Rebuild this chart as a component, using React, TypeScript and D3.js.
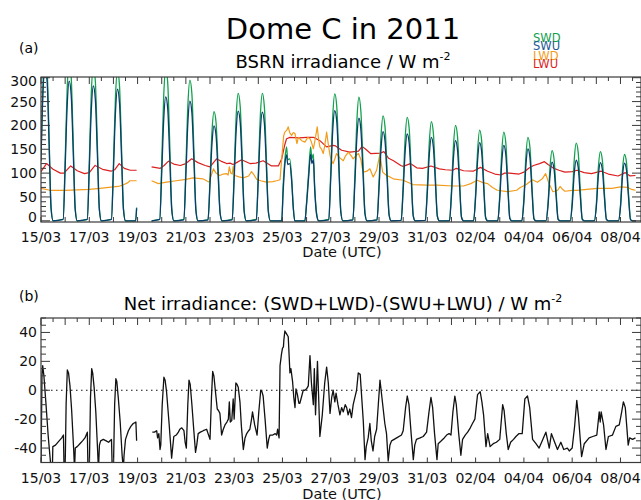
import React from "react";
import * as d3 from "d3";

// ---------- data (t = days since 15/03/2011 00:00 UTC) ----------
const xTickDays = [0, 2, 4, 6, 8, 10, 12, 14, 16, 18, 20, 22, 24];
const xTickLabels = ["15/03", "17/03", "19/03", "21/03", "23/03", "25/03", "27/03", "29/03", "31/03", "02/04", "04/04", "06/04", "08/04"];
const yTicksA = [0, 50, 100, 150, 200, 250, 300];
const yTicksB = [-40, -20, 0, 20, 40];
const legendNames = ["SWD", "SWU", "LWD", "LWU"];

type P3 = [number, number, number] | null;
type P2 = [number, number] | null;

// [t, SWD, SWU]
const swSamples: P3[] = [
  [0, 140, 125], [0.083, 290, 270], [0.167, 345, 318], [0.25, 320, 295], [0.333, 180, 165], [0.417, 30, 25], [0.5, 0, 0],
  [0.917, 3, 3], [1, 127, 111], [1.083, 275, 240], [1.167, 335, 293], [1.25, 302, 264], [1.333, 168, 147], [1.417, 27, 23], [1.5, 0, 0],
  [1.917, 3, 3], [2, 124, 108], [2.083, 267, 232], [2.167, 325, 283], [2.25, 293, 255], [2.333, 163, 142], [2.417, 26, 23], [2.5, 0, 0],
  [2.917, 3, 3], [3, 120, 105], [3.083, 258, 226], [3.167, 315, 276], [3.25, 284, 248], [3.333, 158, 138], [3.417, 25, 22], [3.5, 0, 0],
  [3.92, 0, 0], [3.96, 28, 26],
  null,
  [4.58, 0, 0],
  [4.917, 3, 3], [5, 122, 99], [5.083, 262, 213], [5.167, 320, 260], [5.25, 288, 234], [5.333, 160, 130], [5.417, 26, 21], [5.5, 0, 0],
  [5.917, 3, 2], [6, 112, 95], [6.083, 242, 206], [6.167, 295, 251], [6.25, 266, 226], [6.333, 148, 126], [6.417, 24, 20], [6.5, 0, 0],
  [6.917, 2, 2], [7, 87, 76], [7.083, 188, 163], [7.167, 229, 199], [7.25, 206, 179], [7.333, 115, 100], [7.417, 18, 16], [7.5, 0, 0],
  [7.917, 3, 2], [8, 101, 87], [8.083, 219, 189], [8.167, 267, 230], [8.25, 240, 207], [8.333, 134, 115], [8.417, 21, 18], [8.5, 0, 0],
  [8.917, 3, 2], [9, 101, 87], [9.083, 219, 187], [9.167, 267, 228], [9.25, 240, 205], [9.333, 134, 114], [9.417, 21, 18], [9.5, 0, 0],
  [9.97, 0, 0], [10.03, 75, 62], [10.1, 128, 118], [10.17, 155, 138], [10.22, 128, 118], [10.3, 130, 120], [10.38, 92, 84], [10.45, 28, 26], [10.51, 0, 0],
  [10.93, 0, 0], [11.0, 40, 35], [11.083, 100, 90], [11.167, 155, 140], [11.22, 130, 120], [11.28, 140, 128], [11.333, 75, 68], [11.417, 15, 12], [11.5, 0, 0],
  [11.917, 3, 2], [12, 101, 88], [12.083, 218, 190], [12.167, 266, 231], [12.25, 239, 208], [12.333, 133, 116], [12.417, 21, 18], [12.5, 0, 0],
  [12.917, 2, 2], [13, 95, 80], [13.083, 210, 175], [13.167, 259, 215], [13.25, 228, 190], [13.333, 125, 104], [13.417, 18, 15], [13.5, 0, 0],
  [13.917, 2, 2], [14, 80, 68], [14.083, 178, 151], [14.167, 220, 187], [14.25, 196, 166], [14.333, 106, 90], [14.417, 14, 12], [14.5, 0, 0],
  [14.917, 1, 1], [15, 76, 64], [15.083, 174, 146], [15.167, 217, 182], [15.25, 193, 162], [15.333, 102, 86], [15.417, 12, 10], [15.5, 0, 0],
  [15.917, 1, 1], [16, 70, 59], [16.083, 165, 139], [16.167, 208, 175], [16.25, 184, 155], [16.333, 96, 81], [16.417, 10, 9], [16.5, 0, 0],
  [16.917, 0, 0], [17, 64, 54], [17.083, 157, 132], [17.167, 200, 168], [17.25, 177, 149], [17.333, 90, 76], [17.417, 8, 7], [17.5, 0, 0],
  [17.917, 0, 0], [18, 57, 49], [18.083, 147, 127], [18.167, 190, 164], [18.25, 168, 145], [18.333, 84, 72], [18.417, 7, 6], [18.5, 0, 0],
  [18.917, 0, 0], [19, 54, 46], [19.083, 144, 122], [19.167, 186, 158], [19.25, 164, 139], [19.333, 81, 69], [19.417, 6, 5], [19.5, 0, 0],
  [19.917, 0, 0], [20, 48, 41], [20.083, 135, 116], [20.167, 175, 151], [20.25, 154, 133], [20.333, 75, 64], [20.417, 5, 4], [20.5, 0, 0],
  [20.917, 0, 0], [21, 38, 32], [21.083, 113, 95], [21.167, 147, 123], [21.25, 129, 108], [21.333, 62, 52], [21.417, 4, 3], [21.5, 0, 0],
  [21.917, 0, 0], [22, 41, 32], [22.083, 126, 98], [22.167, 163, 127], [22.25, 143, 112], [22.333, 68, 53], [22.417, 4, 3], [22.5, 0, 0],
  [22.917, 0, 0], [23, 35, 29], [23.083, 111, 94], [23.167, 145, 122], [23.25, 127, 107], [23.333, 60, 50], [23.417, 3, 3], [23.5, 0, 0],
  [23.917, 0, 0], [24, 32, 28], [24.083, 106, 93], [24.167, 139, 121], [24.25, 122, 106], [24.333, 57, 49], [24.417, 3, 2], [24.5, 0, 0], [24.64, 0, 0],
];

const lwuSamples: P2[] = [
  [0, 103], [0.23, 120], [0.5, 108], [0.8, 100], [0.95, 100], [1.23, 115], [1.5, 105], [1.8, 99], [2.0, 101], [2.24, 116], [2.55, 108], [2.9, 104], [3.05, 107], [3.24, 120], [3.45, 110], [3.7, 106], [3.96, 106],
  null,
  [4.58, 113], [4.94, 110], [5.1, 116], [5.28, 125], [5.5, 119], [5.77, 116], [6.0, 120], [6.24, 130], [6.5, 122], [6.8, 116], [7.0, 113], [7.27, 130], [7.5, 124], [7.69, 120], [7.83, 121], [7.96, 118], [8.1, 122], [8.31, 128], [8.65, 120], [8.9, 121], [9.2, 126], [9.55, 115], [9.83, 115], [9.97, 130], [10.1, 160], [10.17, 172], [10.31, 175], [10.7, 174], [11.0, 175], [11.28, 175], [11.4, 172], [11.55, 168], [11.83, 155], [12.1, 158], [12.2, 157], [12.45, 148], [12.8, 144], [13.15, 146], [13.3, 156], [13.45, 150], [13.65, 141], [14.07, 142], [14.2, 145], [14.4, 131], [14.6, 126], [14.9, 116], [15.0, 114], [15.3, 120], [15.56, 111], [15.8, 110], [16.15, 115], [16.5, 109], [16.75, 107], [17.05, 106], [17.2, 110], [17.5, 105], [17.9, 104], [18.2, 112], [18.5, 104], [18.8, 98], [19.05, 96], [19.2, 100], [19.4, 100], [19.8, 98], [20.0, 102], [20.2, 110], [20.4, 116], [20.65, 120], [20.85, 124], [21.0, 118], [21.2, 111], [21.45, 106], [21.7, 102], [22.0, 103], [22.2, 106], [22.5, 101], [22.8, 99], [23.2, 104], [23.5, 98], [23.9, 94], [24.2, 101], [24.4, 94], [24.62, 95],
];

const lwdSamples: P2[] = [
  [0, 68], [0.37, 64], [1.0, 64], [1.5, 65], [2.0, 66], [2.44, 68], [2.99, 71], [3.2, 72], [3.4, 75], [3.6, 80], [3.68, 84], [3.96, 84],
  null,
  [4.58, 84], [4.86, 78], [5.2, 81], [5.6, 84], [6.0, 87], [6.3, 90], [6.7, 88], [6.97, 81], [7.05, 95], [7.14, 109], [7.25, 100], [7.4, 95], [7.55, 98], [7.69, 99], [7.75, 96], [7.8, 113], [7.86, 100], [7.92, 98], [7.96, 114], [8.03, 95], [8.2, 92], [8.38, 90], [8.6, 94], [8.72, 103], [8.8, 98], [8.93, 87], [9.1, 84], [9.34, 81], [9.6, 82], [9.76, 84], [9.9, 86],
  [9.97, 130], [10.05, 178], [10.1, 186], [10.18, 190], [10.24, 197], [10.3, 185], [10.38, 179], [10.45, 185], [10.52, 183], [10.6, 162], [10.66, 175], [10.72, 172], [10.8, 168], [10.93, 165], [11.05, 175], [11.14, 172], [11.2, 165], [11.28, 151], [11.36, 172], [11.44, 197], [11.5, 170], [11.55, 155], [11.62, 150], [11.69, 141], [11.76, 160], [11.83, 186], [11.9, 160], [11.97, 137], [12.04, 125], [12.1, 120], [12.17, 130], [12.24, 141], [12.38, 132], [12.52, 126], [12.6, 135], [12.73, 144], [12.85, 136], [12.93, 130], [13.05, 137], [13.15, 141], [13.25, 128], [13.3, 112], [13.35, 102], [13.5, 104], [13.62, 109], [13.76, 92], [13.9, 106], [14.04, 141], [14.1, 118], [14.15, 102], [14.31, 95], [14.45, 92], [14.59, 88],
  [15.0, 85], [15.4, 76], [15.97, 75], [16.4, 75], [17.07, 73], [17.5, 73], [17.8, 78], [18.07, 85], [18.3, 80], [18.5, 78], [18.7, 70], [18.9, 64], [19.3, 61], [19.7, 64], [19.85, 70], [20.1, 76], [20.35, 86], [20.56, 81], [20.76, 88], [20.9, 99], [21.04, 78], [21.2, 61], [21.4, 64], [21.5, 72], [21.6, 66], [21.7, 62], [22.0, 64], [22.2, 64], [22.6, 66], [23.05, 68], [23.3, 68], [23.65, 68], [24.0, 71], [24.3, 70], [24.45, 66], [24.62, 64],
];

const netSamples: P2[] = [
  [0, -55], [0.04, 10], [0.07, 17], [0.12, 10], [0.2, -8], [0.3, -32], [0.42, -55], [0.47, -55], [0.49, -39], [0.6, -38], [0.75, -35], [0.86, -33], [0.93, -31], [0.955, -55],
  [1.0, -55], [1.04, -10], [1.09, 14], [1.14, 12], [1.2, 3], [1.27, -14], [1.35, -40], [1.39, -55], [1.42, -40], [1.5, -39], [1.61, -37], [1.72, -35], [1.82, -33], [1.92, -29], [1.945, -55],
  [2.0, -55], [2.05, -5], [2.1, 15], [2.14, 12], [2.2, 2], [2.27, -15], [2.34, -40], [2.38, -55], [2.42, -38], [2.47, -35], [2.58, -34], [2.7, -35], [2.8, -36], [2.86, -35], [2.92, -34], [2.95, -55],
  [3.0, -55], [3.05, -10], [3.1, 8], [3.14, 6], [3.2, -5], [3.28, -22], [3.36, -45], [3.41, -55], [3.44, -45], [3.5, -34], [3.62, -28], [3.72, -25], [3.82, -23], [3.93, -22], [3.96, -35],
  null,
  [4.61, -29], [4.7, -29], [4.79, -28], [4.83, -33], [4.88, -30], [4.93, -41], [4.96, -38], [5.02, -10], [5.09, 9], [5.14, 7], [5.2, -1], [5.31, -24], [5.41, -47], [5.5, -32], [5.6, -31], [5.69, -29], [5.75, -27], [5.83, -26], [5.92, -28], [5.97, -36], [6.02, -40],
  [6.08, -10], [6.13, 7], [6.18, 4], [6.25, -10], [6.33, -28], [6.4, -43], [6.45, -38], [6.51, -30], [6.6, -29], [6.72, -28], [6.86, -27], [6.92, -30], [7.0, -34],
  [7.06, -5], [7.11, 13], [7.16, 10], [7.22, 0], [7.3, -13], [7.35, -14], [7.41, -16], [7.48, -31], [7.55, -27], [7.62, -24], [7.7, -22], [7.76, -20], [7.8, -8], [7.84, -22], [7.9, -21], [7.96, -6], [8.0, -20],
  [8.07, 5], [8.12, 4], [8.17, 2], [8.24, -8], [8.3, -25], [8.38, -41], [8.45, -33], [8.52, -30], [8.6, -28], [8.65, -27], [8.72, -20], [8.76, -15], [8.85, -24], [8.95, -31],
  [9.02, -15], [9.1, 0], [9.15, -1], [9.2, -4], [9.28, -20], [9.37, -40], [9.43, -34], [9.48, -31], [9.6, -31], [9.7, -30], [9.76, -31], [9.8, -27], [9.86, -33],
  [9.9, 17], [9.96, 25], [10.0, 29], [10.04, 30], [10.06, 35], [10.1, 41], [10.17, 39], [10.24, 37], [10.31, 12], [10.35, 15], [10.42, 6], [10.47, -5], [10.52, -12], [10.56, 1], [10.62, -3], [10.68, -9], [10.72, -9], [10.8, -4], [10.86, 0], [10.93, 0], [11.0, 1], [11.07, 3],
  [11.14, 24], [11.2, 5], [11.28, -10], [11.32, 15], [11.37, -17], [11.45, 20], [11.5, -5], [11.55, -32], [11.65, -17], [11.75, 5], [11.83, 16], [11.9, 5], [11.97, -16], [12.04, -5], [12.1, 0], [12.17, -8], [12.22, -2], [12.3, -10], [12.38, -17], [12.45, -12], [12.52, -15], [12.6, -10], [12.66, -12], [12.72, -17], [12.79, -13], [12.86, -19], [12.93, -10],
  [13.0, -5], [13.07, 0], [13.14, 12], [13.22, 11], [13.35, -22], [13.42, -48], [13.47, -39], [13.55, -33], [13.62, -23], [13.68, -35], [13.75, -42], [13.82, -32], [13.9, -27], [13.97, -10],
  [14.04, 7], [14.12, -5], [14.24, -23], [14.31, -30], [14.38, -49], [14.45, -38], [14.52, -35], [14.73, -33], [14.93, -31], [15.0, -28],
  [15.1, -12], [15.17, -4], [15.24, -10], [15.33, -30], [15.42, -48], [15.48, -38], [15.55, -34], [15.7, -33], [15.83, -32], [15.97, -29],
  [16.07, -15], [16.15, -5], [16.22, -12], [16.3, -30], [16.4, -48], [16.45, -37], [16.58, -35], [16.7, -33], [16.8, -31], [16.9, -30], [16.98, -31],
  [17.06, -15], [17.14, -4], [17.2, -10], [17.3, -30], [17.39, -45], [17.46, -34], [17.57, -31], [17.67, -29], [17.78, -26], [17.87, -23], [17.97, -20],
  [18.08, -3], [18.19, -1], [18.26, -8], [18.33, -17], [18.43, -39], [18.5, -30], [18.6, -39], [18.73, -37], [18.86, -36], [19.0, -34],
  [19.06, -22], [19.12, -10], [19.18, -14], [19.27, -30], [19.35, -41], [19.45, -36], [19.57, -34], [19.67, -32], [19.8, -30], [19.93, -30],
  [20.04, -6], [20.15, -4], [20.24, -12], [20.36, -34], [20.5, -37], [20.63, -40], [20.76, -35], [20.91, -29], [21.05, -40], [21.14, -30], [21.25, -35], [21.39, -41], [21.53, -36], [21.65, -41], [21.8, -40], [21.88, -42], [22.0, -40],
  [22.1, -25], [22.19, -7], [22.26, -18], [22.39, -46], [22.5, -37], [22.7, -33], [22.85, -32], [23.02, -31],
  [23.12, -15], [23.16, -22], [23.2, -15], [23.3, -24], [23.4, -41], [23.5, -32], [23.67, -31], [23.81, -25], [23.95, -24],
  [24.05, -15], [24.12, -8], [24.2, -12], [24.32, -38], [24.38, -33], [24.5, -34], [24.62, -33],
];

// ---------- styling ----------
const FONT = "'DejaVu Sans', Verdana, sans-serif";
const C_SWD = "#12a04e";
const C_SWU = "#0b3c6e";
const C_LWD = "#f39c1c";
const C_LWU = "#dc1f1f";
const legendColors = [C_SWD, "#1f5a94", C_LWD, C_LWU];
const AXIS = "#3a3a3a";

export default function App() {
  const W = 641, H = 500;
  const L = 41, R = 641;
  const x = d3.scaleLinear().domain([0, 24.85]).range([L, R]);
  const topA = 77, botA = 222;
  const topB = 318, botB = 462.5;
  const yA = d3.scaleLinear().domain([-2.5, 301.5]).range([botA, topA]);
  const yB = d3.scaleLinear().domain([-50, 50]).range([botB, topB]);

  const swdLine = d3.line<P3>().defined((d) => d != null).x((d) => x(d![0])).y((d) => yA(d![1])).curve(d3.curveMonotoneX);
  const swuLine = d3.line<P3>().defined((d) => d != null).x((d) => x(d![0])).y((d) => yA(d![2])).curve(d3.curveMonotoneX);
  const lwLine = d3.line<P2>().defined((d) => d != null).x((d) => x(d![0])).y((d) => yA(d![1]));
  const netLine = d3.line<P2>().defined((d) => d != null).x((d) => x(d![0])).y((d) => yB(d![1]));

  const halfDays = d3.range(0, 50).map((i) => i / 2);

  const xTicks = (top: number, bot: number, key: string) => (
    <g key={key} stroke={AXIS} strokeWidth={1}>
      {halfDays.map((t) => {
        const whole = Number.isInteger(t);
        const len = whole ? 7 : 4;
        const px = x(t);
        return (
          <g key={t}>
            <line x1={px} x2={px} y1={top} y2={top + len} />
            {whole ? <line x1={px} x2={px} y1={bot} y2={bot - 5} /> : null}
          </g>
        );
      })}
    </g>
  );

  const yTicks = (y: d3.ScaleLinear<number, number>, lo: number, hi: number, minorStep: number, majorStep: number, key: string) => {
    const vals = d3.range(lo, hi + 0.001, minorStep);
    return (
      <g key={key} stroke={AXIS} strokeWidth={1}>
        {vals.map((v) => {
          const major = Math.abs(v / majorStep - Math.round(v / majorStep)) < 1e-6;
          const len = major ? 9 : 5;
          const py = y(v);
          return (
            <g key={v}>
              <line x1={L} x2={L + len} y1={py} y2={py} />
              <line x1={R} x2={R - len} y1={py} y2={py} />
            </g>
          );
        })}
      </g>
    );
  };

  const xLabels = (baseline: number) =>
    xTickDays.map((t, i) => (
      <text key={t} x={x(t)} y={baseline} textAnchor="middle" fontSize={14} fontFamily={FONT} fill="#111">
        {xTickLabels[i]}
      </text>
    ));

  return (
    <svg width={W} height={H} style={{ position: "absolute", left: 0, top: 0, background: "#fff" }}>
      <defs>
        <clipPath id="clipA"><rect x={L} y={topA} width={R - L} height={botA - topA} /></clipPath>
        <clipPath id="clipB"><rect x={L} y={topB} width={R - L} height={botB - topB} /></clipPath>
      </defs>
      <rect width={W} height={H} fill="#fff" />

      {/* titles */}
      <text x={343} y={39} textAnchor="middle" fontSize={29} fontFamily={FONT} fill="#000">Dome C in 2011</text>
      <text x={19} y={53} fontSize={14} fontFamily={FONT} fill="#000">(a)</text>
      <text x={343} y={68} textAnchor="middle" fontSize={18} fontFamily={FONT} fill="#000">
        BSRN irradiance / W m<tspan fontSize={11} dy={-8}>-2</tspan>
      </text>
      {legendNames.map((n, i) => (
        <text key={n} x={533} y={[42, 50, 59.5, 67.5][i]} fontSize={11.5} fontFamily={FONT} fill={legendColors[i]}>{n}</text>
      ))}

      {/* panel a */}
      <g clipPath="url(#clipA)" fill="none" strokeLinejoin="round">
        <path d={lwLine(lwuSamples) || ""} stroke={C_LWU} strokeWidth={1.2} />
        <path d={lwLine(lwdSamples) || ""} stroke={C_LWD} strokeWidth={1.2} />
        <path d={swdLine(swSamples) || ""} stroke={C_SWD} strokeWidth={1.3} />
        <path d={swuLine(swSamples) || ""} stroke={C_SWU} strokeWidth={1.3} />
      </g>
      <rect x={L} y={topA} width={R - L} height={botA - topA} fill="none" stroke={AXIS} strokeWidth={1.2} />
      {xTicks(topA, botA, "xa")}
      {yTicks(yA, 0, 300, 10, 50, "ya")}
      {yTicksA.map((v) => (
        <text key={v} x={37} y={Math.min(217, Math.max(81, yA(v))) + 5} textAnchor="end" fontSize={14} fontFamily={FONT} fill="#111">{v}</text>
      ))}
      {xLabels(242)}
      <text x={342} y={257} textAnchor="middle" fontSize={14.5} fontFamily={FONT} fill="#111">Date (UTC)</text>

      {/* panel b */}
      <text x={19} y={301} fontSize={14} fontFamily={FONT} fill="#000">(b)</text>
      <text x={343} y={310} textAnchor="middle" fontSize={18} fontFamily={FONT} fill="#000">
        Net irradiance: (SWD+LWD)-(SWU+LWU) / W m<tspan fontSize={11} dy={-8}>-2</tspan>
      </text>
      <line x1={L} x2={R} y1={yB(0)} y2={yB(0)} stroke="#111" strokeWidth={1} strokeDasharray="1.5 3.5" />
      <g clipPath="url(#clipB)" fill="none">
        <path d={netLine(netSamples) || ""} stroke="#111" strokeWidth={1.3} strokeLinejoin="round" />
      </g>
      <rect x={L} y={topB} width={R - L} height={botB - topB} fill="none" stroke={AXIS} strokeWidth={1.2} />
      {xTicks(topB, botB, "xb")}
      {yTicks(yB, -50, 50, 5, 20, "yb")}
      {yTicksB.map((v) => (
        <text key={v} x={37} y={yB(v) + 5} textAnchor="end" fontSize={14} fontFamily={FONT} fill="#111">{v}</text>
      ))}
      {xLabels(483)}
      <text x={342} y={499} textAnchor="middle" fontSize={14.5} fontFamily={FONT} fill="#111">Date (UTC)</text>
    </svg>
  );
}
